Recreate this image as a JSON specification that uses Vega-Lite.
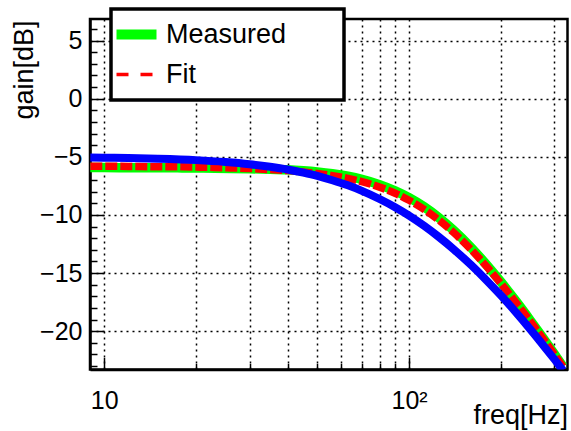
{
  "$schema": "https://vega.github.io/schema/vega-lite/v6.json",
  "width": 477.5,
  "height": 350.5,
  "autosize": {"type": "none"},
  "padding": {"left": 90, "top": 19, "right": 3.5, "bottom": 61.5},
  "background": "white",
  "config": {
    "font": "Liberation Sans",
    "view": {"stroke": "black", "strokeWidth": 2.5},
    "axis": {
      "domainColor": "black", "domainWidth": 2.5,
      "tickColor": "black", "tickWidth": 1.5,
      "labelColor": "black", "labelFont": "Liberation Sans", "labelFontSize": 25,
      "titleColor": "black", "titleFont": "Liberation Sans", "titleFontSize": 27, "titleFontWeight": "normal",
      "grid": true, "gridColor": "black", "gridDash": [2, 4], "gridWidth": 1.5,
      "labelFlush": false, "labelOverlap": false
    },
    "legend": {
      "orient": "none", "legendX": 21, "legendY": -10,
      "strokeColor": "black", "strokeWidth": 3.5, "fillColor": "white",
      "padding": 12, "labelOffset": 16, "rowPadding": 5, "labelLimit": 0,
      "labelFont": "Liberation Sans", "labelFontSize": 27, "labelColor": "black",
      "symbolType": "stroke", "symbolSize": 1600
    }
  },
  "data": {"values": [
    {"curve": "Measured", "f": 9, "gain": -5.92},
    {"curve": "Measured", "f": 10, "gain": -5.93},
    {"curve": "Measured", "f": 12, "gain": -5.94},
    {"curve": "Measured", "f": 14, "gain": -5.95},
    {"curve": "Measured", "f": 16, "gain": -5.95},
    {"curve": "Measured", "f": 18, "gain": -5.96},
    {"curve": "Measured", "f": 20, "gain": -5.97},
    {"curve": "Measured", "f": 23, "gain": -5.98},
    {"curve": "Measured", "f": 26, "gain": -6.0},
    {"curve": "Measured", "f": 30, "gain": -6.03},
    {"curve": "Measured", "f": 35, "gain": -6.08},
    {"curve": "Measured", "f": 40, "gain": -6.12},
    {"curve": "Measured", "f": 45, "gain": -6.2},
    {"curve": "Measured", "f": 50, "gain": -6.3},
    {"curve": "Measured", "f": 56, "gain": -6.45},
    {"curve": "Measured", "f": 63, "gain": -6.67},
    {"curve": "Measured", "f": 70, "gain": -6.94},
    {"curve": "Measured", "f": 80, "gain": -7.4},
    {"curve": "Measured", "f": 90, "gain": -7.93},
    {"curve": "Measured", "f": 100, "gain": -8.52},
    {"curve": "Measured", "f": 112, "gain": -9.3},
    {"curve": "Measured", "f": 125, "gain": -10.22},
    {"curve": "Measured", "f": 140, "gain": -11.32},
    {"curve": "Measured", "f": 160, "gain": -12.82},
    {"curve": "Measured", "f": 180, "gain": -14.32},
    {"curve": "Measured", "f": 200, "gain": -15.76},
    {"curve": "Measured", "f": 225, "gain": -17.47},
    {"curve": "Measured", "f": 250, "gain": -19.08},
    {"curve": "Measured", "f": 280, "gain": -20.86},
    {"curve": "Measured", "f": 300, "gain": -21.98},
    {"curve": "Measured", "f": 320, "gain": -23.05},
    {"curve": "Fit", "f": 9, "gain": -5.82},
    {"curve": "Fit", "f": 10, "gain": -5.82},
    {"curve": "Fit", "f": 12, "gain": -5.83},
    {"curve": "Fit", "f": 14, "gain": -5.85},
    {"curve": "Fit", "f": 16, "gain": -5.86},
    {"curve": "Fit", "f": 18, "gain": -5.87},
    {"curve": "Fit", "f": 20, "gain": -5.89},
    {"curve": "Fit", "f": 23, "gain": -5.92},
    {"curve": "Fit", "f": 26, "gain": -5.96},
    {"curve": "Fit", "f": 30, "gain": -6.01},
    {"curve": "Fit", "f": 35, "gain": -6.1},
    {"curve": "Fit", "f": 40, "gain": -6.19},
    {"curve": "Fit", "f": 45, "gain": -6.31},
    {"curve": "Fit", "f": 50, "gain": -6.44},
    {"curve": "Fit", "f": 56, "gain": -6.62},
    {"curve": "Fit", "f": 63, "gain": -6.86},
    {"curve": "Fit", "f": 70, "gain": -7.14},
    {"curve": "Fit", "f": 80, "gain": -7.61},
    {"curve": "Fit", "f": 90, "gain": -8.14},
    {"curve": "Fit", "f": 100, "gain": -8.74},
    {"curve": "Fit", "f": 112, "gain": -9.52},
    {"curve": "Fit", "f": 125, "gain": -10.43},
    {"curve": "Fit", "f": 140, "gain": -11.52},
    {"curve": "Fit", "f": 160, "gain": -13.0},
    {"curve": "Fit", "f": 180, "gain": -14.47},
    {"curve": "Fit", "f": 200, "gain": -15.89},
    {"curve": "Fit", "f": 225, "gain": -17.58},
    {"curve": "Fit", "f": 250, "gain": -19.16},
    {"curve": "Fit", "f": 280, "gain": -20.91},
    {"curve": "Fit", "f": 300, "gain": -22.01},
    {"curve": "Fit", "f": 320, "gain": -23.05},
    {"curve": "Model", "f": 9, "gain": -5.06},
    {"curve": "Model", "f": 10, "gain": -5.08},
    {"curve": "Model", "f": 12, "gain": -5.11},
    {"curve": "Model", "f": 15, "gain": -5.17},
    {"curve": "Model", "f": 20, "gain": -5.29},
    {"curve": "Model", "f": 25, "gain": -5.45},
    {"curve": "Model", "f": 30, "gain": -5.64},
    {"curve": "Model", "f": 35, "gain": -5.86},
    {"curve": "Model", "f": 40, "gain": -6.1},
    {"curve": "Model", "f": 45, "gain": -6.37},
    {"curve": "Model", "f": 50, "gain": -6.65},
    {"curve": "Model", "f": 56, "gain": -7.02},
    {"curve": "Model", "f": 63, "gain": -7.46},
    {"curve": "Model", "f": 70, "gain": -7.93},
    {"curve": "Model", "f": 80, "gain": -8.63},
    {"curve": "Model", "f": 90, "gain": -9.34},
    {"curve": "Model", "f": 100, "gain": -10.06},
    {"curve": "Model", "f": 112, "gain": -10.94},
    {"curve": "Model", "f": 125, "gain": -11.88},
    {"curve": "Model", "f": 140, "gain": -12.95},
    {"curve": "Model", "f": 160, "gain": -14.33},
    {"curve": "Model", "f": 180, "gain": -15.66},
    {"curve": "Model", "f": 200, "gain": -16.92},
    {"curve": "Model", "f": 225, "gain": -18.43},
    {"curve": "Model", "f": 250, "gain": -19.85},
    {"curve": "Model", "f": 280, "gain": -21.44},
    {"curve": "Model", "f": 300, "gain": -22.43},
    {"curve": "Model", "f": 320, "gain": -23.38}
  ]},
  "encoding": {
    "x": {
      "field": "f", "type": "quantitative",
      "scale": {"type": "log", "domain": [8.98, 331], "nice": false},
      "axis": {
        "values": [10, 20, 30, 40, 50, 60, 70, 80, 90, 100, 200, 300],
        "labelExpr": "datum.value === 10 ? '10' : datum.value === 100 ? '10²' : ''",
        "tickSize": {"condition": {"test": "datum.value === 10 || datum.value === 100", "value": -12}, "value": -6},
        "labelPadding": 30.5,
        "labelBaseline": "top",
        "title": "freq[Hz]",
        "titleX": 477.5, "titleY": 53.5, "titleAlign": "right", "titleBaseline": "alphabetic", "titleAnchor": "end"
      }
    },
    "y": {
      "field": "gain", "type": "quantitative",
      "scale": {"domain": [-23.3, 6.85], "nice": false, "zero": false},
      "axis": {
        "values": [-23, -22, -21, -20, -19, -18, -17, -16, -15, -14, -13, -12, -11, -10, -9, -8, -7, -6, -5, -4, -3, -2, -1, 0, 1, 2, 3, 4, 5, 6],
        "labelExpr": "datum.value % 5 === 0 ? format(datum.value, 'd') : ''",
        "tickSize": {"condition": {"test": "datum.value % 5 === 0", "value": -14}, "value": -7},
        "gridOpacity": {"condition": {"test": "datum.value % 5 === 0", "value": 1}, "value": 0},
        "labelPadding": 22,
        "title": "gain[dB]",
        "titleAngle": -90, "titleAlign": "right", "titleBaseline": "alphabetic",
        "titleX": -58, "titleY": 1, "titleAnchor": "end"
      }
    }
  },
  "layer": [
    {
      "transform": [{"filter": "datum.curve === 'Measured'"}],
      "mark": {"type": "line", "strokeWidth": 9.5, "clip": true, "interpolate": "monotone"},
      "encoding": {
        "color": {
          "field": "curve", "type": "nominal",
          "scale": {"domain": ["Measured", "Fit"], "range": ["#00ff00", "#ff0000"]},
          "legend": {
            "title": null,
            "labelExpr": "datum.label + '\u00a0\u00a0\u00a0\u00a0\u00a0\u00a0\u200b'",
            "encode": {
              "legend": {"update": {"strokeWidth": {"value": 3.5}, "stroke": {"value": "black"}}},
              "symbols": {"update": {
                "strokeWidth": {"signal": "datum.value === 'Measured' ? 10 : 3.5"},
                "strokeDash": {"signal": "datum.value === 'Measured' ? [1, 0] : [12, 12]"}
              }}
            }
          }
        }
      }
    },
    {
      "transform": [{"filter": "datum.curve === 'Fit'"}],
      "mark": {"type": "line", "strokeWidth": 7.5, "strokeDash": [12, 3], "clip": true, "interpolate": "monotone"},
      "encoding": {
        "color": {"field": "curve", "type": "nominal"}
      }
    },
    {
      "transform": [{"filter": "datum.curve === 'Model'"}],
      "mark": {"type": "line", "strokeWidth": 8, "color": "#0000ff", "clip": true, "interpolate": "monotone"},
      "encoding": {}
    }
  ]
}
